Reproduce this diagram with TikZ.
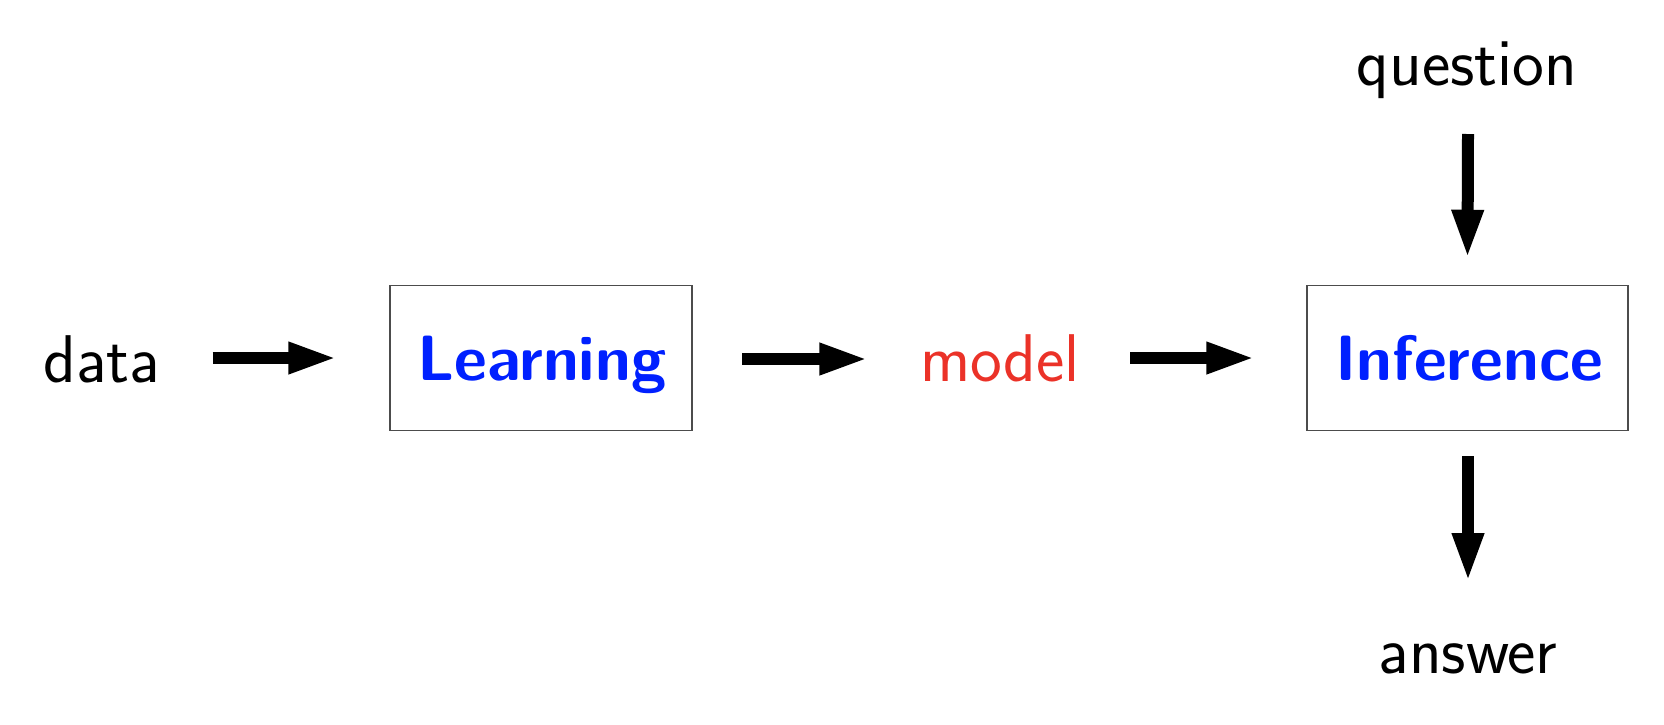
\documentclass[tikz,border=0pt]{standalone}
\usetikzlibrary{arrows.meta}
\definecolor{boxblue}{RGB}{0,32,255}
\definecolor{modelred}{RGB}{235,50,40}
\begin{document}
\begin{tikzpicture}[x=1pt,y=-1pt,
  lbl/.style={anchor=base,inner sep=0pt,outer sep=0pt,font=\sffamily\fontsize{67.5}{75}\selectfont},
  boldlbl/.style={anchor=base,inner sep=0pt,outer sep=0pt,font=\sffamily\bfseries\fontsize{64}{72}\selectfont,text=boxblue},
  procbox/.style={draw=black!70,line width=1.5pt,minimum height=145pt,inner sep=0pt},
  bigarrow/.style={line width=12pt,-{Triangle[length=49pt,width=29pt]}}]
\useasboundingbox (0,0) rectangle (1664,724);
\node[lbl] (data) at (102,382.5) {data};
\node[procbox,minimum width=302pt] (learn) at (541,358) {};
\node[boldlbl] (learntxt) at (542,380) {Learning};
\node[lbl,text=modelred] (model) at (1000,381) {model};
\node[procbox,minimum width=321pt] (infer) at (1467.5,358) {};
\node[boldlbl] (infertxt) at (1469.5,380) {Inference};
\node[lbl] (question) at (1467,85) {question};
\node[lbl] (answer) at (1468,673) {answer};
\coordinate (a1s) at (212.7,358);
\coordinate (a2s) at (742.3,359);
\coordinate (a3s) at (1130,358);
\coordinate (a4s) at (1468,134);
\coordinate (a5s) at (1468,456);
\coordinate (a2e) at (868.3,359);
\coordinate (a5e) at (1468,582);
\draw[bigarrow] (a1s) -- ([xshift=-52pt]learn.west);
\draw[bigarrow] (a2s) -- (a2e);
\draw[bigarrow] (a3s) -- ([xshift=-51pt]infer.west);
\draw[bigarrow] (a4s) -- ([yshift=26pt]infer.north);
\draw[bigarrow] (a5s) -- (a5e);
\end{tikzpicture}
\end{document}
